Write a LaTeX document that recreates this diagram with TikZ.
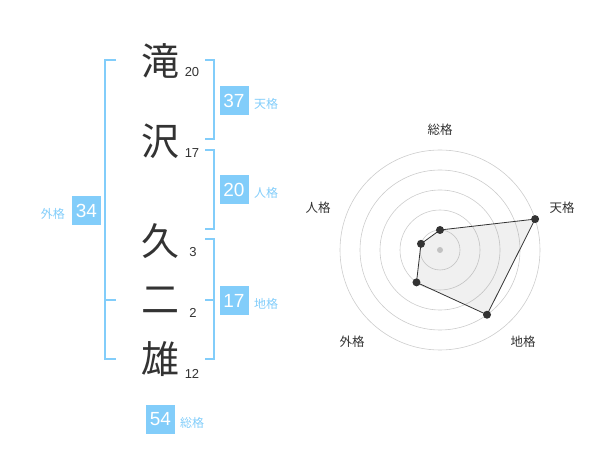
\documentclass[tikz,border=0pt]{standalone}
\usepackage{fontspec}
\setmainfont{Noto Sans CJK JP}
\newfontfamily\chiffres{Liberation Sans}
\usetikzlibrary{calc}
\definecolor{bleu}{RGB}{130,205,250}
\definecolor{encre}{RGB}{51,51,51}
\definecolor{cercle}{RGB}{204,204,204}
\tikzset{
    kanji/.style={text=encre,inner sep=0,font=\fontsize{38}{38}\selectfont},
    traits/.style={text=encre,inner sep=0,anchor=base,font=\chiffres\fontsize{13}{13}\selectfont},
    boite/.style={fill=bleu,text=white,inner sep=0,minimum width=29,minimum height=29,font=\chiffres\fontsize{19}{19}\selectfont},
    nomkaku/.style={text=bleu,inner sep=0,font=\fontsize{12}{12}\selectfont},
    crochet/.style={draw=bleu,line width=2pt},
    axe/.style={text=encre,inner sep=0,font=\fontsize{12.5}{12.5}\selectfont}
}
\begin{document}
\begin{tikzpicture}[x=1pt,y=-1pt]
\useasboundingbox (0,0) rectangle (600,470);

% le nom
\node[kanji] (k1) at (160,61) {滝};
\node[kanji] (k2) at (160,141) {沢};
\node[kanji] (k3) at (160,241) {久};
\node[kanji] (k4) at (160,300) {二};
\node[kanji] (k5) at (160,359) {雄};
\node[traits] (t1) at (192,77) {20};
\node[traits] (t2) at (192,158) {17};
\node[traits] (t3) at (193,257) {3};
\node[traits] (t4) at (193,318) {2};
\node[traits] (t5) at (192,378) {12};

% crochets
\draw[crochet] (116,60) -- (105,60) -- (105,359) -- (116,359);
\draw[crochet] (105,300) -- (116,300);
\draw[crochet] (205,60) -- (214,60) -- (214,139) -- (205,139);
\draw[crochet] (205,150) -- (214,150) -- (214,229) -- (205,229);
\draw[crochet] (205,239) -- (214,239) -- (214,359) -- (205,359);
\draw[crochet] (205,300) -- (214,300);

% les cinq kaku
\node[boite] (ten) at (234,100.5) {37};
\node[nomkaku,anchor=west] (lten) at (254,104) {天格};
\node[boite] (jin) at (234,190) {20};
\node[nomkaku,anchor=west] (ljin) at (254,193) {人格};
\node[boite] (chi) at (234,300.5) {17};
\node[nomkaku,anchor=west] (lchi) at (254,304) {地格};
\node[boite] (gai) at (86.5,211) {34};
\node[nomkaku,anchor=east] (lgai) at (65,214) {外格};
\node[boite] (so) at (160.5,419) {54};
\node[nomkaku,anchor=west] (lso) at (180,423) {総格};

% radar
\begin{scope}[shift={(440,250)},yscale=-1]
\foreach \r in {20,40,...,100}
    \draw[cercle,line width=0.6pt] (0,0) circle (\r);
\fill[cercle] (0,0) circle (3);
\foreach \a/\r/\n in {90/20/so,18/100/ten,-54/80/chi,-126/40/gai,162/20/jin}
    \coordinate (p\n) at (\a:\r);
\filldraw[fill=gray,fill opacity=0.12,draw=encre,line width=0.8pt]
    (pso) -- (pten) -- (pchi) -- (pgai) -- (pjin) -- cycle;
\foreach \n in {so,ten,chi,gai,jin}
    \fill[encre] (p\n) circle (4);
\end{scope}
\node[axe] (aso) at (440,130) {総格};
\node[axe] (aten) at (562,208) {天格};
\node[axe] (achi) at (523,342) {地格};
\node[axe] (agai) at (352,342) {外格};
\node[axe] (ajin) at (318,208) {人格};
\end{tikzpicture}
\end{document}
